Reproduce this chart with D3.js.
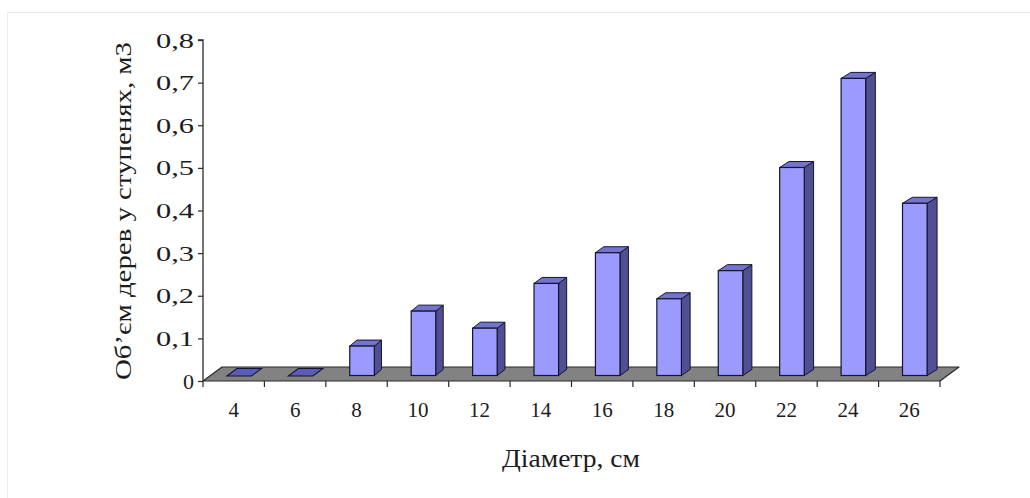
<!DOCTYPE html>
<html>
<head>
<meta charset="utf-8">
<script src="https://cdn.jsdelivr.net/npm/d3@7"></script>
<style>
  html, body { margin: 0; padding: 0; background: #fff; }
  svg { display: block; }
  text { font-family: "Liberation Serif", "Times New Roman", serif; fill: #1c1c1c; }
</style>
</head>
<body>
<svg id="chart" width="1030" height="498"></svg>
<script>
// Diameter classes (cm) and stem volume per class (m3)
const diameters = ["4", "6", "8", "10", "12", "14", "16", "18", "20", "22", "24", "26"];
const volumes   = [0, 0, 0.069, 0.151, 0.111, 0.216, 0.288, 0.18, 0.246, 0.488, 0.697, 0.404];
const yTicks    = [0, 0.1, 0.2, 0.3, 0.4, 0.5, 0.6, 0.7, 0.8];
const yTitle = "Об’єм дерев у ступенях, м3";
const xTitle = "Діаметр, см";

const svg = d3.select("#chart");

// faint frame around the figure
svg.append("path")
  .attr("d", "M7.5,498 V12.5 H1030")
  .attr("fill", "none").attr("stroke", "#ededed").attr("stroke-width", 1);

// plot geometry
const x0 = 203, x1 = 940, yBase = 381, yTop = 40;
const floorDx = 19, floorDy = -14;     // depth of the floor
const frontDx = 5.5, frontDy = -5.5;   // bar front face inset into the floor
const sideDy = -6;                     // bar depth (vertical part)
// horizontal part of the bar depth widens slightly to the right (perspective)
const sideDxAt = i => 6.5 + 3.5 * i / (diameters.length - 1);

const x = d3.scaleBand().domain(diameters).range([x0, x1]).padding(0);
const y = d3.scaleLinear().domain([0, 0.8]).range([yBase, yTop]);
const bw = x.bandwidth();
const faceW = bw * 0.4;

// floor
svg.append("polygon")
  .attr("points", [[x0, yBase], [x0 + floorDx, yBase + floorDy], [x1 + floorDx, yBase + floorDy], [x1, yBase]].join(" "))
  .attr("fill", "#828282").attr("stroke", "#2a2a2a").attr("stroke-width", 1.2)
  .attr("stroke-linejoin", "round");

// bars
const data = diameters.map((d, i) => ({ d, v: volumes[i], i }));
const bars = svg.append("g").selectAll("g").data(data).join("g");

bars.each(function (b) {
  const g = d3.select(this);
  const l = x(b.d) + bw / 2 - faceW / 2 + frontDx;
  const r = l + faceW;
  const bot = y(0) + frontDy;
  const top = y(b.v) + frontDy;
  const sdx = sideDxAt(b.i);
  const stroke = "#151530";
  if (b.v <= 0) {
    // empty class: only the flat cap lying on the floor
    const fdx = 10, fdy = -7;
    g.append("polygon")
      .attr("points", [[l, bot + 0.5], [r, bot + 0.5], [r + fdx, bot + fdy], [l + fdx, bot + fdy]].join(" "))
      .attr("fill", "#5c5cb8").attr("stroke", stroke).attr("stroke-width", 1.1);
    return;
  }
  // side face
  g.append("polygon")
    .attr("points", [[r, bot], [r + sdx, bot + sideDy], [r + sdx, top + sideDy], [r, top]].join(" "))
    .attr("fill", "#4f4f92").attr("stroke", stroke).attr("stroke-width", 1).attr("stroke-linejoin", "round");
  // top face
  g.append("polygon")
    .attr("points", [[l, top], [r, top], [r + sdx, top + sideDy], [l + sdx, top + sideDy]].join(" "))
    .attr("fill", "#7474cc").attr("stroke", stroke).attr("stroke-width", 1).attr("stroke-linejoin", "round");
  // front face
  g.append("rect")
    .attr("x", l).attr("y", top).attr("width", faceW).attr("height", bot - top)
    .attr("fill", "#9a9aff").attr("stroke", stroke).attr("stroke-width", 1.2);
});

// value axis
const fmt = v => v === 0 ? "0" : d3.format(".1f")(v).replace(".", ",");
const yAxis = svg.append("g")
  .attr("transform", `translate(${x0},0)`)
  .call(d3.axisLeft(y).tickValues(yTicks).tickFormat(fmt).tickSize(5).tickPadding(4));
yAxis.select(".domain").attr("stroke", "#2a2a2a").attr("stroke-width", 1.3).attr("d", `M-5,${yTop}H0V${yBase}`);
yAxis.selectAll(".tick line").attr("stroke", "#2a2a2a").attr("stroke-width", 1.2);
yAxis.selectAll(".tick text")
  .attr("font-size", 22).attr("fill", "#1c1c1c")
  .attr("font-family", "'Liberation Serif', serif")
  .each(function (v) {
    if (v !== 0) d3.select(this).attr("textLength", 38).attr("lengthAdjust", "spacingAndGlyphs");
  });

// category axis: labels under the bands, ticks on the band edges
const xAxis = svg.append("g")
  .attr("transform", `translate(0,${yBase})`)
  .call(d3.axisBottom(x).tickSize(0).tickPadding(21));
xAxis.select(".domain").remove();
xAxis.selectAll(".tick text")
  .attr("font-size", 21).attr("fill", "#1c1c1c")
  .attr("font-family", "'Liberation Serif', serif");

svg.append("g").selectAll("line")
  .data(d3.range(diameters.length + 1))
  .join("line")
  .attr("x1", i => x0 + i * bw).attr("x2", i => x0 + i * bw)
  .attr("y1", yBase).attr("y2", yBase + 6)
  .attr("stroke", "#2a2a2a").attr("stroke-width", 1.2);

// axis titles
svg.append("text")
  .attr("transform", `translate(131,211) rotate(-90)`)
  .attr("text-anchor", "middle")
  .attr("font-size", 23)
  .attr("textLength", 338).attr("lengthAdjust", "spacingAndGlyphs")
  .text(yTitle);

svg.append("text")
  .attr("x", 571).attr("y", 467)
  .attr("text-anchor", "middle")
  .attr("font-size", 26)
  .attr("textLength", 138).attr("lengthAdjust", "spacingAndGlyphs")
  .text(xTitle);
</script>
</body>
</html>
